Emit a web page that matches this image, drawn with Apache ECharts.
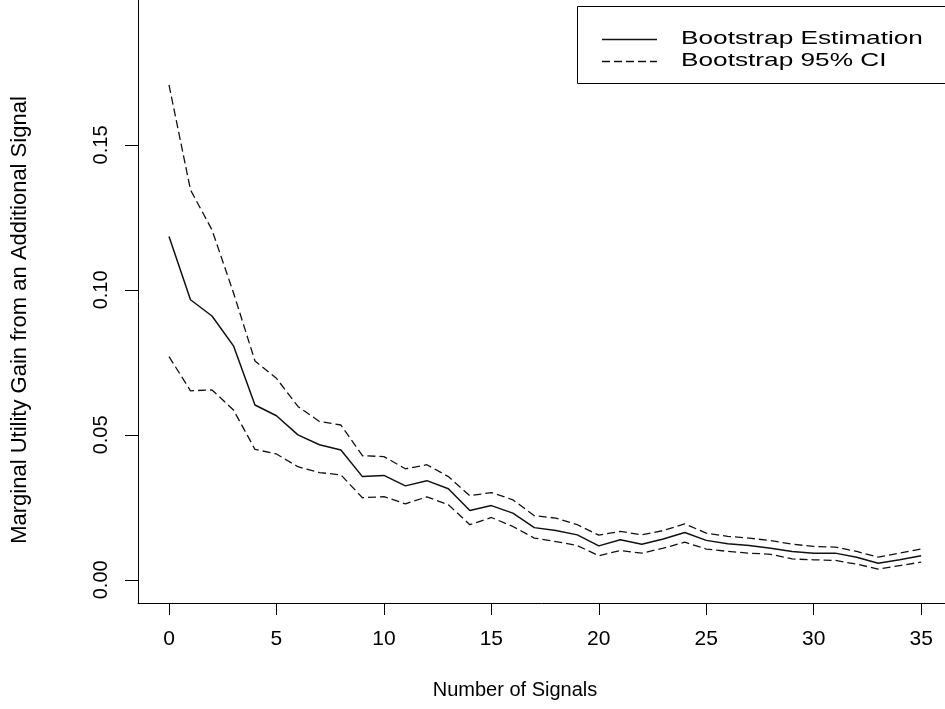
<!DOCTYPE html>
<html>
<head>
<meta charset="utf-8">
<script src="https://cdn.jsdelivr.net/npm/echarts@6/dist/echarts.min.js"></script>
<style>html,body{margin:0;padding:0;background:#fff;}#c{width:945px;height:709px;}</style>
</head>
<body>
<div id="c"></div>
<script>
const signals = [0,1,2,3,4,5,6,7,8,9,10,11,12,13,14,15,16,17,18,19,20,21,22,23,24,25,26,27,28,29,30,31,32,33,34,35];
const estimation = [0.1184,0.0966,0.0910,0.0807,0.0603,0.0566,0.0500,0.0466,0.0448,0.0356,0.0360,0.0324,0.0342,0.0314,0.0239,0.0256,0.0230,0.0180,0.0170,0.0155,0.0117,0.0138,0.0123,0.0141,0.0163,0.0136,0.0124,0.0118,0.0109,0.0098,0.0092,0.0092,0.0078,0.0057,0.0069,0.0083];
const upperCI = [0.1707,0.1345,0.1207,0.0990,0.0755,0.0695,0.0598,0.0546,0.0534,0.0428,0.0425,0.0383,0.0397,0.0356,0.0290,0.0301,0.0276,0.0221,0.0213,0.0190,0.0154,0.0167,0.0155,0.0170,0.0193,0.0161,0.0150,0.0144,0.0135,0.0123,0.0115,0.0113,0.0098,0.0078,0.0092,0.0106];
const lowerCI = [0.0770,0.0652,0.0655,0.0586,0.0450,0.0434,0.0390,0.0370,0.0362,0.0283,0.0287,0.0262,0.0286,0.0259,0.0190,0.0215,0.0184,0.0144,0.0132,0.0118,0.0083,0.0101,0.0092,0.0109,0.0130,0.0106,0.0098,0.0092,0.0088,0.0072,0.0069,0.0067,0.0054,0.0037,0.0049,0.0061];
const xTicks = [0,5,10,15,20,25,30,35];
const yTicks = [0,0.05,0.10,0.15];
const xTitle = 'Number of Signals';
const yTitle = 'Marginal Utility Gain from an Additional Signal';
const legendNames = ['Bootstrap Estimation', 'Bootstrap 95% CI'];

const FONT = 'Liberation Sans, Arial, sans-serif';
const pairs = arr => signals.map((s, i) => [s, arr[i]]);

const chart = echarts.init(document.getElementById('c'), null, {renderer: 'canvas'});
chart.setOption({
  animation: false,
  backgroundColor: '#fff',
  grid: {left: 138, right: 0, top: 0, bottom: 106, show: false},
  xAxis: {
    type: 'value', min: -1.443, max: 36.11,
    axisLine: {show: true, onZero: false, lineStyle: {color: '#000', width: 1}},
    splitLine: {show: false},
    axisTick: {show: true, customValues: xTicks, length: 12, lineStyle: {color: '#000', width: 1}},
    axisLabel: {customValues: xTicks, color: '#000', fontFamily: FONT, fontSize: 21, margin: 26}
  },
  yAxis: {
    type: 'value', min: -0.008, max: 0.2,
    axisLine: {show: true, onZero: false, lineStyle: {color: '#000', width: 1}},
    splitLine: {show: false},
    axisTick: {show: true, customValues: yTicks, length: 13, lineStyle: {color: '#000', width: 1}},
    axisLabel: {customValues: yTicks, rotate: 90, color: '#000', fontFamily: FONT, fontSize: 20, margin: 27,
      formatter: v => v.toFixed(2)}
  },
  series: [
    {name: legendNames[0], type: 'line', data: pairs(estimation), showSymbol: false, symbol: 'none',
      lineStyle: {color: '#111', width: 1.5}},
    {name: legendNames[1], type: 'line', data: pairs(upperCI), showSymbol: false, symbol: 'none',
      lineStyle: {color: '#111', width: 1.3, type: [8, 4]}},
    {name: legendNames[1] + ' lower', type: 'line', data: pairs(lowerCI), showSymbol: false, symbol: 'none',
      lineStyle: {color: '#111', width: 1.3, type: [8, 4]}}
  ],
  graphic: [
    {type: 'text', x: 515, y: 690, style: {text: xTitle, fill: '#000', font: '20px ' + FONT, align: 'center', verticalAlign: 'middle'}},
    {type: 'text', x: 20, y: 320, rotation: Math.PI / 2, style: {text: yTitle, fill: '#000', font: '22px ' + FONT, align: 'center', verticalAlign: 'middle'}},
    {type: 'rect', shape: {x: 577.5, y: 6.5, width: 420, height: 77}, style: {fill: '#fff', stroke: '#000', lineWidth: 1}},
    {type: 'line', shape: {x1: 602, y1: 39.5, x2: 657, y2: 39.5}, style: {stroke: '#111', lineWidth: 1.5}},
    {type: 'line', shape: {x1: 602, y1: 61.5, x2: 657, y2: 61.5}, style: {stroke: '#111', lineWidth: 1.3, lineDash: [8, 4]}},
    {type: 'text', x: 681, y: 39, scaleX: 1.38, style: {text: legendNames[0], fill: '#000', font: '19px ' + FONT, align: 'left', verticalAlign: 'middle'}},
    {type: 'text', x: 681, y: 61, scaleX: 1.38, style: {text: legendNames[1], fill: '#000', font: '19px ' + FONT, align: 'left', verticalAlign: 'middle'}}
  ]
});
</script>
</body>
</html>
